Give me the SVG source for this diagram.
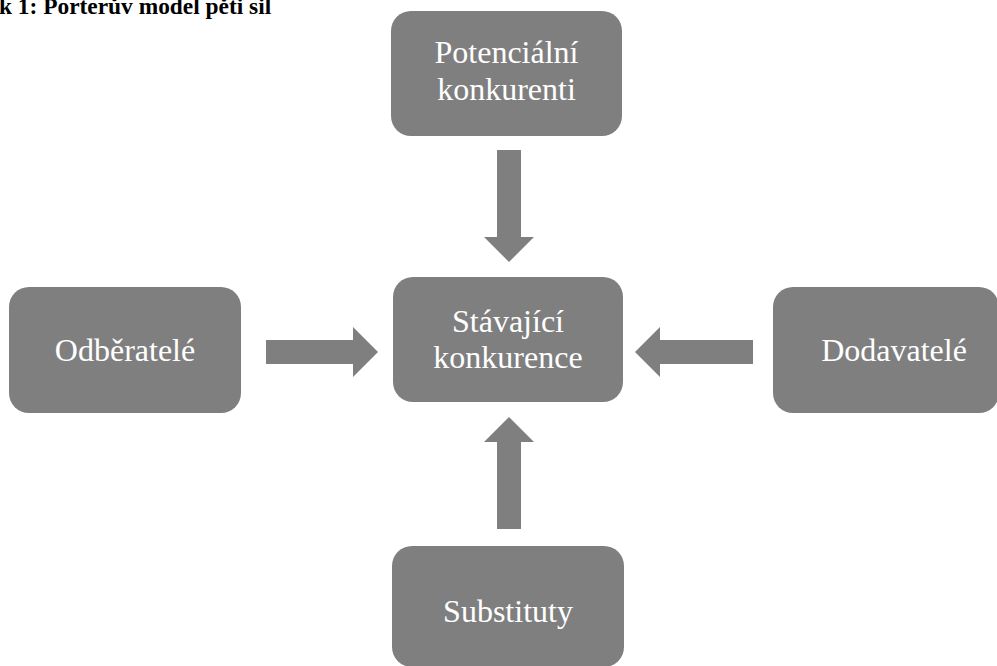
<svg xmlns="http://www.w3.org/2000/svg" width="997" height="666" viewBox="0 0 997 666">
<style>
.box{fill:#7f7f7f}
.lbl{font-family:"Liberation Serif","Times New Roman","DejaVu Serif",serif;font-size:32px;fill:#ffffff;text-anchor:middle}
.arr{fill:#7f7f7f}
.title{font-family:"Liberation Serif","Times New Roman","DejaVu Serif",serif;font-size:23.4px;font-weight:bold;fill:#000}
</style>
<rect width="997" height="666" fill="#ffffff"/>
<text class="title" x="-1" y="14">k 1: Porterův model pěti sil</text>
<g id="connectors">
<path class="arr" d="M497,150 H521 V237 H534 L509,262 L484,237 H497 Z"/>
<path class="arr" d="M497,529 H521 V442 H534 L509,417 L484,442 H497 Z"/>
<path class="arr" d="M266,340 V364 H353 V377 L378,352 L353,327 V340 Z"/>
<path class="arr" d="M753,340 V364 H660 V377 L635,352 L660,327 V340 Z"/>
</g>
<g id="potencialni">
<rect class="box" x="391" y="11" width="231" height="125" rx="20"/>
<text class="lbl" x="506.5" y="63">Potenciální</text>
<text class="lbl" x="506.5" y="100">konkurenti</text>
</g>
<g id="stavajici">
<rect class="box" x="393" y="277" width="230" height="125" rx="20"/>
<text class="lbl" x="508" y="332">Stávající</text>
<text class="lbl" x="508" y="368">konkurence</text>
</g>
<g id="odberatele">
<rect class="box" x="9" y="287" width="232" height="126" rx="20"/>
<text class="lbl" x="125" y="361">Odběratelé</text>
</g>
<g id="dodavatele">
<rect class="box" x="773" y="287" width="226" height="126" rx="20"/>
<text class="lbl" x="894" y="361">Dodavatelé</text>
</g>
<g id="substituty">
<rect class="box" x="392" y="546" width="232" height="121" rx="20"/>
<text class="lbl" x="508" y="622">Substituty</text>
</g>
</svg>
